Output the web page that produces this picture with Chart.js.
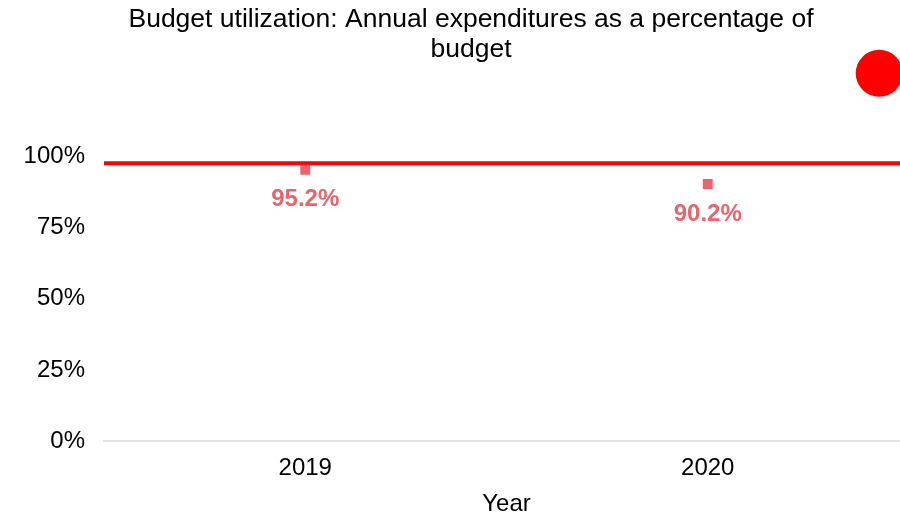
<!DOCTYPE html>
<html>
<head>
<meta charset="utf-8">
<script src="https://cdn.jsdelivr.net/npm/chart.js@4.4.1/dist/chart.umd.min.js"></script>
<style>
  html, body { margin: 0; padding: 0; background: #fff; overflow: hidden; }
  canvas { display: block; }
</style>
</head>
<body>
<canvas id="myChart" width="916" height="516"></canvas>
<script>
const years = ['2019', '2020'];
const utilization = [95.2, 90.2];
const targetLevel = 97.5;
const yTicks = [0, 25, 50, 75, 100];
const titleLines = ['Budget utilization: Annual expenditures as a percentage of', 'budget'];
// target marker sits above the plot, at the right edge
const markerX = [0.963];
const markerY = [129];

const fontFamily = '"Liberation Sans", Arial, sans-serif';
const labelColor = '#e9646b';
const targetColor = '#ff0000';

// title drawn by hand so it can sit slightly right of the canvas centre
const titlePlugin = {
    id: 'titleText',
    afterDraw(chart) {
        const ctx = chart.ctx;
        ctx.save();
        ctx.font = '26.5px ' + fontFamily;
        ctx.fillStyle = '#000';
        ctx.textAlign = 'center';
        ctx.textBaseline = 'alphabetic';
        titleLines.forEach((line, i) => {
            ctx.fillText(line, 471, 27 + i * 30);
        });
        ctx.restore();
    }
};

// value labels under each point + the round target marker
const markPlugin = {
    id: 'marks',
    afterDatasetsDraw(chart) {
        const ctx = chart.ctx;
        const meta = chart.getDatasetMeta(0);
        ctx.save();
        ctx.font = 'bold 24px ' + fontFamily;
        ctx.fillStyle = labelColor;
        ctx.textAlign = 'center';
        ctx.textBaseline = 'middle';
        meta.data.forEach((pt, i) => {
            ctx.fillText(utilization[i].toFixed(1) + '%', pt.x, pt.y + 30);
        });

        const xs = chart.scales.x2;
        const ys = chart.scales.y;
        ctx.fillStyle = targetColor;
        markerX.forEach((mx, i) => {
            ctx.beginPath();
            ctx.arc(xs.getPixelForValue(mx), ys.getPixelForValue(markerY[i]), 23.5, 0, Math.PI * 2);
            ctx.fill();
        });
        ctx.restore();
    }
};

const ctx = document.getElementById('myChart');
new Chart(ctx, {
    type: 'line',
    data: {
        labels: years,
        datasets: [{
            label: 'Utilization',
            data: utilization,
            showLine: false,
            pointStyle: 'rect',
            pointRadius: 7,
            pointBackgroundColor: labelColor,
            pointBorderWidth: 0
        }, {
            label: 'Target',
            xAxisID: 'x2',
            data: [{ x: 0, y: targetLevel }, { x: 1, y: targetLevel }],
            borderColor: targetColor,
            borderWidth: 4,
            pointRadius: 0,
            order: 1
        }]
    },
    options: {
        responsive: false,
        animation: false,
        layout: { padding: { left: 0, right: 0, top: 156, bottom: 0 } },
        plugins: {
            legend: { display: false },
            tooltip: { enabled: false },
            title: { display: false }
        },
        scales: {
            x: {
                offset: true,
                grid: { display: false, drawTicks: false },
                border: { display: true, color: '#e3e3e3', width: 2 },
                ticks: { color: '#000', padding: 13, font: { family: fontFamily, size: 24 } },
                title: {
                    display: true,
                    text: 'Year',
                    color: '#000',
                    font: { family: fontFamily, size: 24, lineHeight: 1 },
                    padding: { top: -4, bottom: 0 }
                }
            },
            x2: {
                type: 'linear',
                display: false,
                min: 0,
                max: 1
            },
            y: {
                min: 0,
                max: 100,
                afterBuildTicks(axis) {
                    axis.ticks = yTicks.map(v => ({ value: v }));
                },
                afterFit(axis) {
                    axis.width = 104;
                },
                grid: { display: false, drawTicks: false },
                border: { display: false },
                ticks: {
                    color: '#000',
                    padding: 19,
                    font: { family: fontFamily, size: 24 },
                    callback: v => v + '%'
                }
            }
        }
    },
    plugins: [titlePlugin, markPlugin]
});
</script>
</body>
</html>
